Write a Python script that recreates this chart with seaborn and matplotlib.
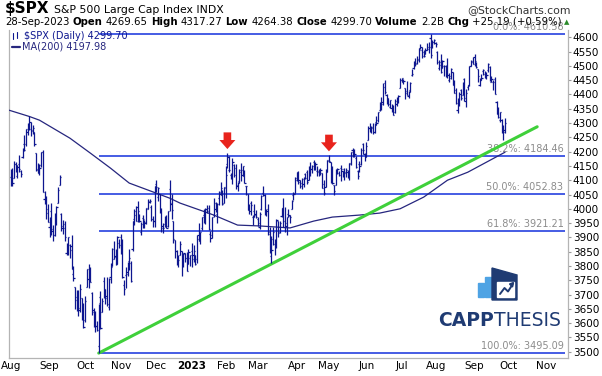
import matplotlib
matplotlib.use("Agg")
import matplotlib.pyplot as plt
import numpy as np
import pandas as pd
import seaborn as sns
from matplotlib.patches import Polygon, Rectangle

W, H = 602, 376

# daily OHLC of $SPX, 1-Aug-2022 .. 28-Sep-2023 (by month)
opens = [
    4112, 4104, 4107, 4155, 4116, 4156, 4133, 4181, 4227, 4225, 4270, 4290, 4280, 4273, 4267, 4195, 4134, 4126, 4154, 4199, 4034, 4041, 4000,
    3937, 3994, 3930, 3910, 3959, 4022, 4084, 3982, 3940, 3932, 3845, 3849, 3875, 3871, 3773, 3727, 3682, 3687, 3652, 3687, 3633,
    3610, 3727, 3754, 3773, 3707, 3647, 3595, 3590, 3520, 3690, 3638, 3746, 3697, 3689, 3657, 3763, 3799, 3825, 3834, 3808, 3882,
    3902, 3853, 3733, 3767, 3780, 3817, 3810, 3859, 3964, 3977, 4007, 3977, 3919, 3967, 3956, 3953, 4001, 4023, 4006, 3964, 3957,
    4087, 4041, 4053, 3996, 3934, 3947, 3955, 3940, 4069, 4016, 3959, 3891, 3853, 3811, 3839, 3853, 3816, 3843, 3829, 3806, 3829,
    3853, 3840, 3840, 3823, 3910, 3889, 3932, 3977, 3961, 3999, 4003, 3911, 3910, 3978, 4001, 3982, 4037, 4053, 4049, 4021,
    4071, 4158, 4136, 4119, 4106, 4153, 4144, 4078, 4097, 4127, 4119, 4114, 4078, 4053, 4001, 4019, 3973, 3993, 3977,
    3964, 3938, 3998, 4055, 4049, 3987, 3999, 3912, 3835, 3894, 3876, 3878, 3959, 3918, 3975, 4003, 3959, 3939, 3982, 3974, 3999, 4047, 4056,
    4102, 4130, 4094, 4081, 4086, 4120, 4130, 4100, 4141, 4138, 4165, 4139, 4131, 4132, 4132, 4126, 4088, 4075, 4129,
    4166, 4164, 4123, 4082, 4084, 4136, 4125, 4143, 4132, 4139, 4127, 4127, 4123, 4157, 4204, 4191, 4177, 4133, 4155, 4156, 4226, 4191,
    4184, 4242, 4282, 4271, 4285, 4268, 4305, 4309, 4345, 4366, 4366, 4440, 4397, 4380, 4356, 4354, 4344, 4337, 4367, 4375, 4422,
    4450, 4442, 4423, 4405, 4395, 4415, 4467, 4491, 4514, 4509, 4521, 4563, 4554, 4550, 4543, 4555, 4559, 4598, 4565, 4585,
    4579, 4550, 4494, 4514, 4492, 4498, 4501, 4487, 4450, 4459, 4478, 4433, 4416, 4345, 4380, 4416, 4397, 4455, 4389, 4427, 4432, 4501, 4518,
    4530, 4511, 4490, 4434, 4452, 4481, 4473, 4462, 4487, 4497, 4445, 4445, 4453, 4375, 4342, 4310, 4312, 4283, 4269.65,
]
highs = [
    4140, 4141, 4167, 4162, 4152, 4187, 4137, 4212, 4258, 4280, 4301, 4325, 4302, 4293, 4267, 4196, 4159, 4156, 4200, 4204, 4063, 4044, 4016,
    3970, 4019, 3942, 3987, 4010, 4077, 4119, 3986, 3962, 3959, 3880, 3900, 3877, 3907, 3800, 3727, 3716, 3717, 3736, 3687, 3672,
    3694, 3791, 3807, 3797, 3710, 3652, 3641, 3608, 3666, 3712, 3689, 3762, 3719, 3762, 3758, 3810, 3862, 3886, 3859, 3905, 3893,
    3912, 3894, 3750, 3796, 3813, 3859, 3818, 3959, 4001, 4009, 4028, 3983, 3955, 3979, 3962, 4004, 4034, 4035, 4013, 3976, 4080,
    4101, 4077, 4053, 4002, 3951, 3974, 3977, 3991, 4101, 4053, 3959, 3891, 3855, 3839, 3889, 3853, 3846, 3846, 3849, 3858, 3840,
    3879, 3873, 3840, 3907, 3951, 3919, 3970, 3998, 4003, 4015, 4015, 3923, 3973, 4039, 4024, 4019, 4062, 4095, 4064, 4077,
    4148, 4195, 4183, 4125, 4176, 4157, 4157, 4094, 4138, 4160, 4149, 4137, 4081, 4053, 4018, 4028, 3979, 4018, 3997,
    3972, 3990, 4049, 4079, 4051, 4001, 4018, 3935, 3906, 3937, 3894, 3964, 3959, 3957, 4003, 4039, 4007, 3972, 3999, 3980, 4031, 4058, 4110,
    4128, 4133, 4100, 4108, 4110, 4125, 4134, 4150, 4164, 4152, 4169, 4162, 4148, 4138, 4142, 4126, 4101, 4139, 4170,
    4187, 4164, 4148, 4082, 4138, 4143, 4131, 4154, 4132, 4143, 4141, 4136, 4159, 4198, 4212, 4210, 4186, 4136, 4166, 4213, 4231, 4195,
    4232, 4291, 4300, 4288, 4300, 4299, 4323, 4339, 4375, 4391, 4439, 4449, 4401, 4387, 4382, 4367, 4363, 4385, 4391, 4398, 4458,
    4457, 4454, 4423, 4448, 4412, 4443, 4488, 4517, 4528, 4533, 4562, 4578, 4565, 4555, 4564, 4581, 4583, 4610.58, 4591, 4595,
    4585, 4551, 4519, 4540, 4520, 4503, 4502, 4527, 4476, 4491, 4478, 4450, 4421, 4386, 4407, 4418, 4443, 4459, 4419, 4434, 4501, 4522, 4532,
    4541, 4514, 4490, 4458, 4473, 4490, 4481, 4479, 4511, 4498, 4466, 4452, 4462, 4376, 4357, 4339, 4315, 4292, 4317.27,
]
lows = [
    4080, 4079, 4107, 4128, 4108, 4128, 4112, 4178, 4201, 4219, 4257, 4277, 4253, 4262, 4219, 4131, 4124, 4119, 4147, 4057, 4017, 3965, 3954,
    3903, 3907, 3886, 3906, 3944, 4022, 4083, 3921, 3913, 3889, 3837, 3838, 3827, 3789, 3749, 3648, 3644, 3624, 3640, 3610, 3584,
    3604, 3727, 3723, 3744, 3630, 3588, 3569, 3572, 3495.09, 3579, 3638, 3687, 3667, 3659, 3647, 3742, 3799, 3824, 3804, 3808, 3864,
    3843, 3758, 3698, 3722, 3764, 3786, 3745, 3853, 3944, 3956, 3954, 3955, 3907, 3934, 3934, 3947, 3998, 4020, 3956, 3937, 3938,
    4058, 4027, 3984, 3919, 3917, 3935, 3933, 3936, 3994, 3966, 3879, 3828, 3803, 3796, 3839, 3765, 3798, 3813, 3784, 3806, 3801,
    3795, 3815, 3802, 3809, 3888, 3877, 3925, 3950, 3947, 3984, 3926, 3885, 3897, 3971, 3989, 3949, 4013, 4049, 4015, 4021,
    4037, 4141, 4128, 4104, 4088, 4112, 4070, 4061, 4091, 4096, 4113, 4090, 4048, 3995, 3982, 3978, 3943, 3973, 3968,
    3940, 3928, 3995, 4044, 3980, 3975, 3908, 3847, 3809, 3874, 3838, 3864, 3901, 3917, 3970, 3936, 3920, 3909, 3970, 3951, 3999, 4032, 4056,
    4098, 4086, 4072, 4069, 4076, 4104, 4087, 4100, 4114, 4124, 4134, 4135, 4114, 4113, 4117, 4071, 4049, 4075, 4128,
    4165, 4089, 4088, 4048, 4084, 4123, 4116, 4098, 4110, 4099, 4111, 4109, 4101, 4153, 4181, 4180, 4143, 4104, 4129, 4154, 4192, 4166,
    4181, 4242, 4267, 4264, 4262, 4266, 4294, 4304, 4341, 4345, 4363, 4403, 4367, 4361, 4351, 4338, 4328, 4336, 4361, 4371, 4422,
    4443, 4437, 4385, 4397, 4389, 4408, 4464, 4489, 4499, 4507, 4514, 4558, 4527, 4532, 4541, 4555, 4546, 4528, 4563, 4577,
    4567, 4505, 4485, 4474, 4492, 4465, 4461, 4458, 4443, 4453, 4433, 4404, 4365, 4335, 4360, 4382, 4397, 4376, 4356, 4415, 4431, 4498, 4507,
    4501, 4492, 4442, 4431, 4449, 4467, 4456, 4453, 4478, 4447, 4442, 4416, 4402, 4330, 4316, 4303, 4265, 4239, 4264.38,
]
closes = [
    4119, 4091, 4155, 4152, 4145, 4140, 4122, 4210, 4207, 4280, 4297, 4305, 4274, 4284, 4228, 4138, 4129, 4141, 4199, 4058, 4031, 3986, 3955,
    3967, 3924, 3908, 3980, 4006, 4067, 4110, 3933, 3946, 3901, 3873, 3900, 3856, 3790, 3758, 3693, 3655, 3647, 3719, 3640, 3586,
    3678, 3791, 3783, 3745, 3640, 3612, 3589, 3577, 3670, 3583, 3678, 3720, 3695, 3666, 3753, 3797, 3859, 3831, 3807, 3901, 3872,
    3856, 3760, 3720, 3771, 3807, 3828, 3749, 3956, 3993, 3957, 3992, 3959, 3947, 3965, 3950, 4004, 4027, 4026, 3964, 3958, 4080,
    4077, 4072, 3999, 3941, 3934, 3964, 3934, 3991, 4020, 3995, 3896, 3852, 3818, 3822, 3878, 3822, 3845, 3829, 3783, 3849, 3840,
    3824, 3853, 3808, 3895, 3892, 3919, 3970, 3983, 3999, 3991, 3929, 3899, 3973, 4020, 4017, 4016, 4060, 4071, 4018, 4077,
    4119, 4180, 4136, 4111, 4164, 4118, 4082, 4090, 4137, 4136, 4148, 4090, 4079, 3997, 3991, 4012, 3970, 3982, 3970,
    3951, 3981, 4046, 4048, 3986, 3992, 3918, 3862, 3856, 3919, 3892, 3960, 3917, 3952, 4003, 3937, 3949, 3971, 3978, 3971, 4028, 4051, 4109,
    4125, 4101, 4090, 4105, 4109, 4109, 4092, 4146, 4138, 4151, 4155, 4155, 4130, 4134, 4137, 4072, 4056, 4135, 4169,
    4168, 4120, 4091, 4061, 4136, 4138, 4119, 4138, 4131, 4124, 4136, 4110, 4159, 4198, 4192, 4193, 4146, 4115, 4151, 4205, 4206, 4180,
    4221, 4282, 4274, 4284, 4268, 4294, 4299, 4339, 4369, 4373, 4426, 4410, 4389, 4366, 4382, 4348, 4329, 4378, 4377, 4396, 4450,
    4456, 4447, 4412, 4399, 4410, 4439, 4472, 4510, 4505, 4523, 4555, 4566, 4535, 4536, 4555, 4567, 4567, 4537, 4582, 4589,
    4577, 4513, 4502, 4478, 4518, 4499, 4468, 4469, 4464, 4490, 4438, 4404, 4370, 4370, 4400, 4388, 4436, 4376, 4406, 4433, 4498, 4515, 4508,
    4516, 4497, 4465, 4451, 4457, 4487, 4462, 4467, 4505, 4450, 4454, 4444, 4402, 4330, 4320, 4337, 4274, 4275, 4299.70,
]

# MA(200) at sample bars (bar index, value)
ma_idx = [-1, 11, 17, 35, 47, 59, 70, 94, 100, 112, 120, 134, 147, 165, 179, 190, 206, 218, 230, 244, 258, 270, 281, 292]
ma_val = [4345, 4323, 4310, 4247, 4195, 4142, 4090, 4037, 4020, 3995, 3978, 3943, 3940, 3933, 3957, 3971, 3978, 3985, 4000, 4041, 4100, 4128, 4163, 4197.98]

# green trend line from the Oct-2022 low
trend_idx = [52, 311]
trend_val = [3495.09, 4287]

# Fibonacci retracement, Oct-2022 low to Jul-2023 high
fib_pct = ["0.0%", "38.2%", "50.0%", "61.8%", "100.0%"]
fib_val = [4610.58, 4184.46, 4052.83, 3921.21, 3495.09]
fib_start = 52

arrow_idx = [128, 188]  # 2-Feb-2023 and 1-May-2023 highs

holidays = ["2022-09-05", "2022-11-24", "2022-12-26", "2023-01-02", "2023-01-16", "2023-02-20",
            "2023-04-07", "2023-05-29", "2023-06-19", "2023-07-04", "2023-09-04", "2023-11-23"]

BAR = "#0d168f"
MA_C = "#26267e"
FIB = "#1430dc"
GREEN = "#3fd03a"
NAVY = "#1f3b73"


def px(x, y):
    return x / W, 1 - y / H


def text_run(fig, x, y, pieces, size, gap=3.5):
    r = fig.canvas.get_renderer()
    for s, weight in pieces:
        t = fig.text(*px(x, y), s, fontsize=size, fontweight=weight,
                     color="black", va="center", ha="left")
        x += t.get_window_extent(renderer=r).width + gap
    return x


def main() -> None:
    sns.set_theme(style="white")
    plt.rcParams["font.family"] = ["DejaVu Sans"]

    cal = pd.bdate_range("2022-08-01", "2023-11-30", freq="C", holidays=holidays)
    n = len(closes)
    x = np.arange(n)

    fig = plt.figure(figsize=(W / 100, H / 100), dpi=100)
    ax = fig.add_axes([9 / W, 18 / H, (568 - 9) / W, (358 - 30) / H])

    # fib lines and labels (under the price)
    ax.hlines(fib_val, fib_start, 327.5, color=FIB, lw=1.1, zorder=2)
    for p, v in zip(fib_pct, fib_val):
        ax.annotate(f"{p}: {v:.2f}", xy=(326.5, v), xytext=(0, 1.5),
                    textcoords="offset points", ha="right", va="bottom",
                    fontsize=7, color="#8c8c8c", zorder=1, annotation_clip=False)

    sns.lineplot(x=ma_idx, y=ma_val, ax=ax, color=MA_C, lw=0.9, zorder=3)
    sns.lineplot(x=trend_idx, y=trend_val, ax=ax, color=GREEN, lw=2.2, zorder=4)

    ax.vlines(x, lows, highs, color=BAR, lw=0.9, zorder=5)
    ax.hlines(opens, x - 0.7, x, color=BAR, lw=0.9, zorder=5)
    ax.hlines(closes, x, x + 0.7, color=BAR, lw=0.9, zorder=5)

    for i in arrow_idx:
        ax.annotate("", xy=(i, highs[i] + 14), xytext=(0, 12), textcoords="offset points",
                    arrowprops=dict(facecolor="#e8231c", edgecolor="none", width=5.5,
                                    headwidth=11.5, headlength=6.5, shrink=0), zorder=6)

    ax.set_xlim(-1, 329.2)
    ax.set_ylim(3478, 4625.5)

    # axes styling
    ax.yaxis.tick_right()
    ax.set_yticks(np.arange(3500, 4601, 50))
    ax.tick_params(axis="y", direction="out", length=2.5, width=0.8, color="#9a9a9a",
                   pad=1, labelsize=7.5, labelcolor="black")
    month_pos, month_lab = [], []
    for k in range(len(cal)):
        if k == 0 or cal[k].month != cal[k - 1].month:
            month_pos.append(k)
            month_lab.append("2023" if cal[k].month == 1 else cal[k].strftime("%b"))
    ax.set_xticks(month_pos)
    ax.set_xticklabels(month_lab)
    ax.tick_params(axis="x", direction="in", length=3, width=0.8, color="#9a9a9a",
                   pad=2.5, labelsize=7.5, labelcolor="black")
    for lab in ax.get_xticklabels():
        if lab.get_text() == "2023":
            lab.set_fontweight("bold")
    for side in ["left", "bottom", "right"]:
        ax.spines[side].set_color("#b4b4b4")
        ax.spines[side].set_linewidth(0.9)
    ax.spines["top"].set_visible(False)
    ax.grid(False)

    # header
    x1 = text_run(fig, 5, 9, [("$SPX", "bold")], 11, gap=4)
    text_run(fig, x1, 10, [("S&P 500 Large Cap Index INDX", "normal")], 7.8)
    fig.text(*px(571, 10), "@StockCharts.com", fontsize=7.8, ha="right", va="center", color="#333333")
    last = cal[n - 1].strftime("%d-%b-%Y")
    chg = closes[-1] - closes[-2] if False else 25.19
    text_run(fig, 5, 22, [
        (last, "normal"), ("Open", "bold"), (f"{opens[-1]:.2f}", "normal"),
        ("High", "bold"), (f"{highs[-1]:.2f}", "normal"), ("Low", "bold"),
        (f"{lows[-1]:.2f}", "normal"), ("Close", "bold"), (f"{closes[-1]:.2f}", "normal"),
        ("Volume", "bold"), ("2.2B", "normal"), ("Chg", "bold"),
        (f"+{chg:.2f} (+0.59%)", "normal")], 7.3, gap=3.2)
    fig.text(*px(567, 22), "▲", fontsize=5, color="#2a8a2a", ha="center", va="center")

    # legend
    fig.text(*px(24, 36), f"$SPX (Daily) {closes[-1]:.2f}", fontsize=7, color=BAR, va="center")
    for dx, y0, y1 in [(13, 33, 39), (17, 32, 38)]:
        fig.lines.append(plt.Line2D([dx / W, dx / W], [1 - y0 / H, 1 - y1 / H],
                                    transform=fig.transFigure, color=BAR, lw=0.8))
    fig.lines.append(plt.Line2D([12 / W, 20 / W], [1 - 46.5 / H] * 2,
                                transform=fig.transFigure, color=MA_C, lw=1.6))
    fig.text(*px(22, 46.5), f"MA(200) {ma_val[-1]:.2f}", fontsize=7, color=MA_C, va="center")

    # CAPPTHESIS logo
    tf = fig.transFigure
    fig.patches.append(Rectangle(px(478, 297), 5.5 / W, 14 / H, transform=tf, color="#4ea3e4"))
    fig.patches.append(Rectangle(px(485, 297), 5.5 / W, 20 / H, transform=tf, color="#4ea3e4"))
    fig.patches.append(Polygon([px(492, 300), px(492, 268), px(517, 275), px(517, 300)],
                               transform=tf, color=NAVY))
    fig.patches.append(Rectangle(px(497, 296.5), 16.5 / W, 15 / H, transform=tf, color="white"))
    zz = [px(500, 294), px(504.5, 288), px(508, 291.5), px(512.5, 284.5)]
    fig.lines.append(plt.Line2D([p[0] for p in zz], [p[1] for p in zz], transform=tf,
                                color=NAVY, lw=1.4))
    fig.patches.append(Polygon([px(513.5, 282.5), px(509.5, 284), px(512.5, 287)],
                               transform=tf, color=NAVY))
    xl = text_run(fig, 438, 320, [("CAPP", "bold")], 13.5, gap=0)
    for t in fig.texts[-1:]:
        t.set_color(NAVY)
    text_run(fig, xl, 320, [("THESIS", "normal")], 13.5, gap=0)
    fig.texts[-1].set_color(NAVY)

    fig.savefig("out.png", dpi=100)
    plt.close(fig)


if __name__ == "__main__":
    main()
